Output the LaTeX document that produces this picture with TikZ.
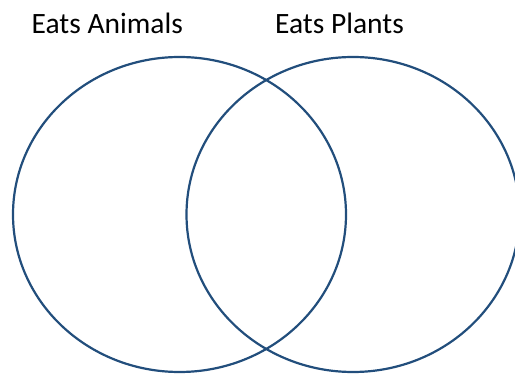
\documentclass[tikz,border=0pt]{standalone}
\usepackage{fontspec}
\setmainfont{Carlito}
\usetikzlibrary{shapes.geometric}
\definecolor{ring}{RGB}{34,78,124}
\definecolor{ink}{RGB}{0,0,0}
\tikzset{
  every picture/.style={x=1pt, y=-1pt},
  set/.style={draw=ring, ellipse, line width=2.2pt, inner sep=0pt,
    minimum width=333pt, minimum height=315pt},
  title/.style={text=ink, inner sep=0pt, anchor=base west,
    font=\fontsize{29.5}{35}\selectfont},
}
\begin{document}
\begin{tikzpicture}
  \useasboundingbox (0,0) rectangle (515,374);
  \clip (0,0) rectangle (515,374);
  % two overlapping sets, the right one runs off the page
  \node[set] (animals) at (179.5,214.5) {};
  \node[set] (plants)  at (353,214.5) {};
  \node[title] (animalslbl) at (31.5,34) {Eats Animals};
  \node[title] (plantslbl)  at (275,34) {Eats Plants};
\end{tikzpicture}
\end{document}
